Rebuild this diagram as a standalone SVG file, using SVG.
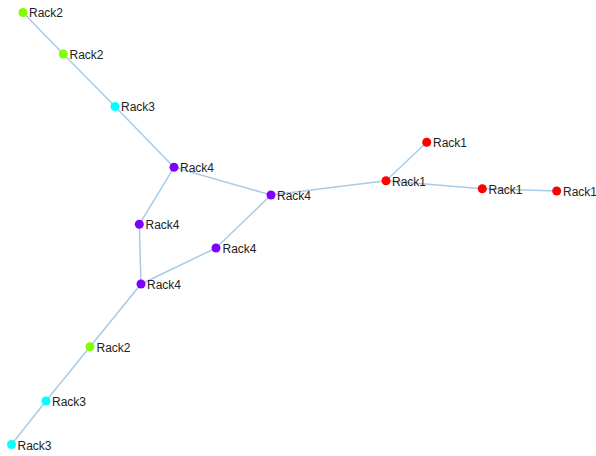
<svg xmlns="http://www.w3.org/2000/svg" width="596" height="456" viewBox="0 0 596 456">
<style>
.link{stroke:#a9cbe5;stroke-width:1.5;fill:none}
.n{stroke:none}
.r2{fill:#80ff00}.r3{fill:#00ffff}.r4{fill:#7f00ff}.r1{fill:#ff0000}
text{font-family:"Liberation Sans",Arial,sans-serif;font-size:12px;fill:#222}
</style>
<rect width="596" height="456" fill="#fff"/>
<g id="links">
<line class="link" x1="23" y1="12.5" x2="63.3" y2="54"/>
<line class="link" x1="63.3" y1="54" x2="115" y2="106.5"/>
<line class="link" x1="115" y1="106.5" x2="174" y2="167.3"/>
<line class="link" x1="174" y1="167.3" x2="271" y2="195"/>
<line class="link" x1="174" y1="167.3" x2="139.3" y2="224.3"/>
<line class="link" x1="271" y1="195" x2="386" y2="180.7"/>
<line class="link" x1="271" y1="195" x2="216" y2="248"/>
<line class="link" x1="386" y1="180.7" x2="426.7" y2="142.3"/>
<line class="link" x1="386" y1="180.7" x2="482.3" y2="188.7"/>
<line class="link" x1="482.3" y1="188.7" x2="556.7" y2="191"/>
<line class="link" x1="139.3" y1="224.3" x2="141" y2="284"/>
<line class="link" x1="216" y1="248" x2="141" y2="284"/>
<line class="link" x1="141" y1="284" x2="90" y2="346.7"/>
<line class="link" x1="90" y1="346.7" x2="46" y2="401"/>
<line class="link" x1="46" y1="401" x2="11.5" y2="444.5"/>
</g>
<g id="n1"><circle class="n r2" cx="23" cy="12.5" r="4.5"/><text x="29" y="17">Rack2</text></g>
<g id="n2"><circle class="n r2" cx="63.3" cy="54" r="4.5"/><text x="69.5" y="58.5">Rack2</text></g>
<g id="n3"><circle class="n r3" cx="115" cy="106.5" r="4.5"/><text x="121" y="111">Rack3</text></g>
<g id="n4"><circle class="n r4" cx="174" cy="167.3" r="4.5"/><text x="180" y="172">Rack4</text></g>
<g id="n5"><circle class="n r4" cx="271" cy="195" r="4.5"/><text x="277" y="199.5">Rack4</text></g>
<g id="n6"><circle class="n r1" cx="386" cy="180.7" r="4.5"/><text x="392" y="185.5">Rack1</text></g>
<g id="n7"><circle class="n r1" cx="426.7" cy="142.3" r="4.5"/><text x="433" y="147">Rack1</text></g>
<g id="n8"><circle class="n r1" cx="482.3" cy="188.7" r="4.5"/><text x="488.5" y="193.5">Rack1</text></g>
<g id="n9"><circle class="n r1" cx="556.7" cy="191" r="4.5"/><text x="563" y="195.5">Rack1</text></g>
<g id="n10"><circle class="n r4" cx="139.3" cy="224.3" r="4.5"/><text x="145.5" y="229">Rack4</text></g>
<g id="n11"><circle class="n r4" cx="216" cy="248" r="4.5"/><text x="222.5" y="253">Rack4</text></g>
<g id="n12"><circle class="n r4" cx="141" cy="284" r="4.5"/><text x="147" y="289">Rack4</text></g>
<g id="n13"><circle class="n r2" cx="90" cy="346.7" r="4.5"/><text x="96.5" y="351.5">Rack2</text></g>
<g id="n14"><circle class="n r3" cx="46" cy="401" r="4.5"/><text x="52" y="406">Rack3</text></g>
<g id="n15"><circle class="n r3" cx="11.5" cy="444.5" r="4.5"/><text x="17.5" y="449.5">Rack3</text></g>
</svg>
